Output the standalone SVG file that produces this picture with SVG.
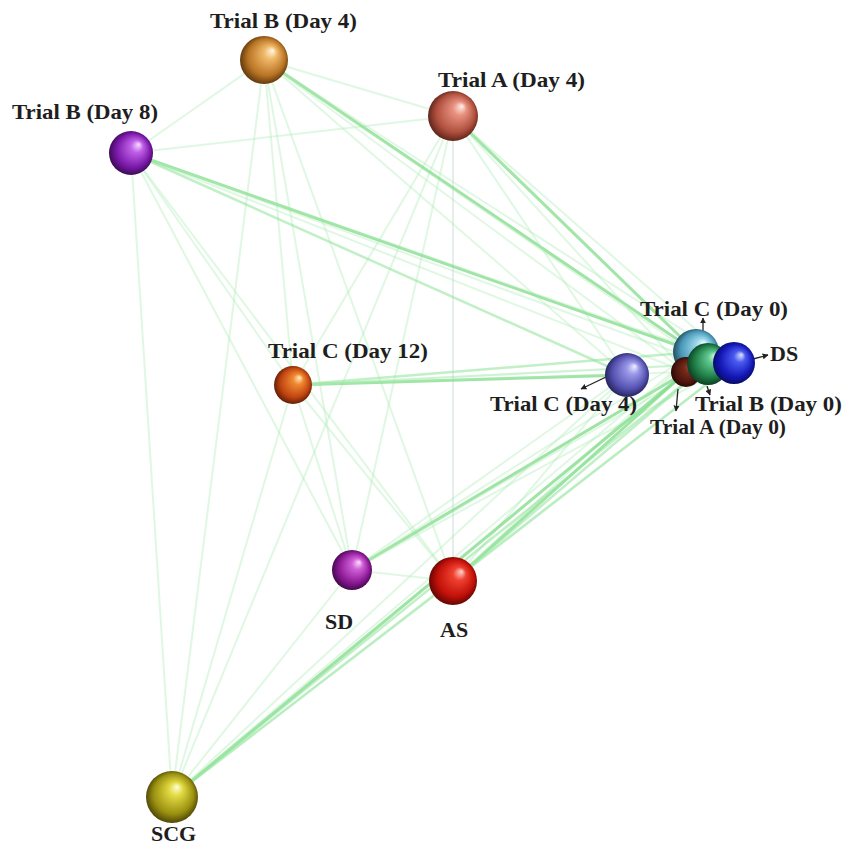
<svg xmlns="http://www.w3.org/2000/svg" width="844" height="847" viewBox="0 0 844 847">
<style>
.lbl{font-family:"Liberation Serif","Times New Roman",serif;font-weight:bold;font-size:22px;fill:#1e1e1e}
.e0{stroke:#c8dcd8;stroke-width:1.2;opacity:.8}
.e1{stroke:#a8ecb0;stroke-width:2;opacity:.35}
.e2{stroke:#8fe49a;stroke-width:2.5;opacity:.55}
.e3{stroke:#7fdc88;stroke-width:3;opacity:.75}
.ar{stroke:#222;stroke-width:1.3;fill:none;marker-end:url(#ah)}
</style>
<defs>
<marker id="ah" viewBox="0 0 10 10" refX="9" refY="5" markerWidth="6" markerHeight="6" orient="auto" markerUnits="userSpaceOnUse"><path d="M0,0L10,5L0,10z" fill="#222"/></marker>
<radialGradient id="gB4" cx="0.5" cy="0.5" r="0.55" fx="0.68" fy="0.3"><stop offset="0" stop-color="#fff8e8"/><stop offset="0.25" stop-color="#f0b868"/><stop offset="0.7" stop-color="#b87424"/><stop offset="1" stop-color="#4a2a08"/></radialGradient>
<radialGradient id="gA4" cx="0.5" cy="0.5" r="0.55" fx="0.68" fy="0.3"><stop offset="0" stop-color="#fff0ea"/><stop offset="0.25" stop-color="#e89080"/><stop offset="0.7" stop-color="#b0503e"/><stop offset="1" stop-color="#4a1a12"/></radialGradient>
<radialGradient id="gB8" cx="0.5" cy="0.5" r="0.55" fx="0.68" fy="0.3"><stop offset="0" stop-color="#f8e0ff"/><stop offset="0.25" stop-color="#c060e8"/><stop offset="0.7" stop-color="#7a18a8"/><stop offset="1" stop-color="#2a0840"/></radialGradient>
<radialGradient id="gC12" cx="0.5" cy="0.5" r="0.55" fx="0.68" fy="0.3"><stop offset="0" stop-color="#fff0c8"/><stop offset="0.25" stop-color="#f08830"/><stop offset="0.7" stop-color="#c04410"/><stop offset="1" stop-color="#4a1404"/></radialGradient>
<radialGradient id="gC4" cx="0.5" cy="0.5" r="0.55" fx="0.68" fy="0.3"><stop offset="0" stop-color="#f0f0ff"/><stop offset="0.25" stop-color="#9a98e8"/><stop offset="0.7" stop-color="#5450b0"/><stop offset="1" stop-color="#1a1848"/></radialGradient>
<radialGradient id="gC0" cx="0.5" cy="0.5" r="0.55" fx="0.68" fy="0.3"><stop offset="0" stop-color="#f0ffff"/><stop offset="0.25" stop-color="#9ad8ec"/><stop offset="0.7" stop-color="#4a98b8"/><stop offset="1" stop-color="#183848"/></radialGradient>
<radialGradient id="gA0" cx="0.5" cy="0.5" r="0.55" fx="0.68" fy="0.3"><stop offset="0" stop-color="#c07060"/><stop offset="0.3" stop-color="#7a2a1a"/><stop offset="0.75" stop-color="#4a140c"/><stop offset="1" stop-color="#1a0604"/></radialGradient>
<radialGradient id="gB0" cx="0.5" cy="0.5" r="0.55" fx="0.68" fy="0.3"><stop offset="0" stop-color="#e0fff0"/><stop offset="0.25" stop-color="#60c890"/><stop offset="0.7" stop-color="#1e7a44"/><stop offset="1" stop-color="#08301a"/></radialGradient>
<radialGradient id="gDS" cx="0.5" cy="0.5" r="0.55" fx="0.68" fy="0.3"><stop offset="0" stop-color="#e0e8ff"/><stop offset="0.25" stop-color="#4a5af0"/><stop offset="0.7" stop-color="#1418b8"/><stop offset="1" stop-color="#060850"/></radialGradient>
<radialGradient id="gSD" cx="0.5" cy="0.5" r="0.55" fx="0.68" fy="0.3"><stop offset="0" stop-color="#ffe0ff"/><stop offset="0.25" stop-color="#d060d8"/><stop offset="0.7" stop-color="#8a1894"/><stop offset="1" stop-color="#30063a"/></radialGradient>
<radialGradient id="gAS" cx="0.5" cy="0.5" r="0.55" fx="0.68" fy="0.3"><stop offset="0" stop-color="#ffd8d0"/><stop offset="0.25" stop-color="#f04030"/><stop offset="0.7" stop-color="#c01008"/><stop offset="1" stop-color="#4a0404"/></radialGradient>
<radialGradient id="gSCG" cx="0.5" cy="0.5" r="0.55" fx="0.6" fy="0.3"><stop offset="0" stop-color="#ffffd8"/><stop offset="0.25" stop-color="#e0d840"/><stop offset="0.7" stop-color="#9a9010"/><stop offset="1" stop-color="#3a3404"/></radialGradient>
</defs>
<rect width="844" height="847" fill="#ffffff"/>
<g id="connectors">
<line class="e1" x1="264" y1="60" x2="453" y2="116"/>
<line class="e1" x1="264" y1="60" x2="131" y2="153"/>
<line class="e1" x1="264" y1="60" x2="293" y2="385"/>
<line class="e1" x1="264" y1="60" x2="352" y2="570"/>
<line class="e1" x1="264" y1="60" x2="453" y2="581"/>
<line class="e1" x1="264" y1="60" x2="172" y2="797"/>
<line class="e1" x1="453" y1="116" x2="131" y2="153"/>
<line class="e1" x1="453" y1="116" x2="293" y2="385"/>
<line class="e1" x1="453" y1="116" x2="352" y2="570"/>
<line class="e0" x1="453" y1="116" x2="453" y2="581"/>
<line class="e1" x1="453" y1="116" x2="172" y2="797"/>
<line class="e1" x1="131" y1="153" x2="293" y2="385"/>
<line class="e1" x1="131" y1="153" x2="352" y2="570"/>
<line class="e1" x1="131" y1="153" x2="453" y2="581"/>
<line class="e1" x1="131" y1="153" x2="172" y2="797"/>
<line class="e1" x1="293" y1="385" x2="352" y2="570"/>
<line class="e1" x1="293" y1="385" x2="453" y2="581"/>
<line class="e1" x1="293" y1="385" x2="172" y2="797"/>
<line class="e1" x1="352" y1="570" x2="453" y2="581"/>
<line class="e1" x1="352" y1="570" x2="172" y2="797"/>
<line class="e2" x1="453" y1="581" x2="172" y2="797"/>
<line class="e3" x1="264" y1="60" x2="696" y2="352"/>
<line class="e1" x1="264" y1="60" x2="686" y2="372"/>
<line class="e1" x1="264" y1="60" x2="708" y2="364"/>
<line class="e1" x1="264" y1="60" x2="734" y2="363"/>
<line class="e1" x1="264" y1="60" x2="627" y2="375"/>
<line class="e3" x1="453" y1="116" x2="696" y2="352"/>
<line class="e1" x1="453" y1="116" x2="686" y2="372"/>
<line class="e1" x1="453" y1="116" x2="708" y2="364"/>
<line class="e1" x1="453" y1="116" x2="734" y2="363"/>
<line class="e1" x1="453" y1="116" x2="627" y2="375"/>
<line class="e3" x1="131" y1="153" x2="696" y2="352"/>
<line class="e1" x1="131" y1="153" x2="686" y2="372"/>
<line class="e1" x1="131" y1="153" x2="708" y2="364"/>
<line class="e1" x1="131" y1="153" x2="734" y2="363"/>
<line class="e2" x1="131" y1="153" x2="627" y2="375"/>
<line class="e3" x1="293" y1="385" x2="627" y2="375"/>
<line class="e2" x1="293" y1="385" x2="696" y2="352"/>
<line class="e1" x1="293" y1="385" x2="686" y2="372"/>
<line class="e1" x1="293" y1="385" x2="708" y2="364"/>
<line class="e1" x1="293" y1="385" x2="734" y2="363"/>
<line class="e3" x1="352" y1="570" x2="686" y2="372"/>
<line class="e1" x1="352" y1="570" x2="696" y2="352"/>
<line class="e1" x1="352" y1="570" x2="708" y2="364"/>
<line class="e1" x1="352" y1="570" x2="734" y2="363"/>
<line class="e1" x1="352" y1="570" x2="627" y2="375"/>
<line class="e3" x1="453" y1="581" x2="686" y2="372"/>
<line class="e2" x1="453" y1="581" x2="708" y2="364"/>
<line class="e1" x1="453" y1="581" x2="696" y2="352"/>
<line class="e2" x1="453" y1="581" x2="734" y2="363"/>
<line class="e1" x1="453" y1="581" x2="627" y2="375"/>
<line class="e3" x1="172" y1="797" x2="686" y2="372"/>
<line class="e2" x1="172" y1="797" x2="708" y2="364"/>
<line class="e1" x1="172" y1="797" x2="696" y2="352"/>
<line class="e1" x1="172" y1="797" x2="734" y2="363"/>
<line class="e1" x1="172" y1="797" x2="627" y2="375"/>
<line class="ar" x1="703" y1="333" x2="703" y2="318"/>
<line class="ar" x1="753" y1="359" x2="768" y2="355"/>
<line class="ar" x1="606" y1="377" x2="581" y2="389"/>
<line class="ar" x1="707" y1="386" x2="710" y2="395"/>
<line class="ar" x1="678" y1="389" x2="676" y2="411"/>
</g>
<g id="trial-b-day4"><circle cx="264" cy="60" r="24" fill="url(#gB4)"/><text class="lbl" x="210" y="28" textLength="147" lengthAdjust="spacingAndGlyphs">Trial B (Day 4)</text></g>
<g id="trial-a-day4"><circle cx="453" cy="116" r="25" fill="url(#gA4)"/><text class="lbl" x="438" y="87" textLength="147" lengthAdjust="spacingAndGlyphs">Trial A (Day 4)</text></g>
<g id="trial-b-day8"><circle cx="131" cy="153" r="22" fill="url(#gB8)"/><text class="lbl" x="12" y="119" textLength="146" lengthAdjust="spacingAndGlyphs">Trial B (Day 8)</text></g>
<g id="trial-c-day12"><circle cx="293" cy="385" r="19" fill="url(#gC12)"/><text class="lbl" x="268" y="358" textLength="160" lengthAdjust="spacingAndGlyphs">Trial C (Day 12)</text></g>
<g id="trial-c-day4"><circle cx="627" cy="375" r="22" fill="url(#gC4)"/><text class="lbl" x="490" y="411" textLength="147" lengthAdjust="spacingAndGlyphs">Trial C (Day 4)</text></g>
<g id="trial-c-day0"><circle cx="696" cy="352" r="23" fill="url(#gC0)"/><text class="lbl" x="640" y="316" textLength="148" lengthAdjust="spacingAndGlyphs">Trial C (Day 0)</text></g>
<g id="trial-a-day0"><circle cx="686" cy="372" r="15" fill="url(#gA0)"/><text class="lbl" x="650" y="434" textLength="136" lengthAdjust="spacingAndGlyphs">Trial A (Day 0)</text></g>
<g id="trial-b-day0"><circle cx="708" cy="364" r="21" fill="url(#gB0)"/><text class="lbl" x="695" y="411" textLength="147" lengthAdjust="spacingAndGlyphs">Trial B (Day 0)</text></g>
<g id="ds"><circle cx="734" cy="363" r="21" fill="url(#gDS)"/><text class="lbl" x="770" y="361">DS</text></g>
<g id="sd"><circle cx="352" cy="570" r="20" fill="url(#gSD)"/><text class="lbl" x="325" y="629">SD</text></g>
<g id="as"><circle cx="453" cy="581" r="24" fill="url(#gAS)"/><text class="lbl" x="440" y="637">AS</text></g>
<g id="scg"><circle cx="172" cy="797" r="26" fill="url(#gSCG)"/><text class="lbl" x="151" y="841">SCG</text></g>
</svg>
